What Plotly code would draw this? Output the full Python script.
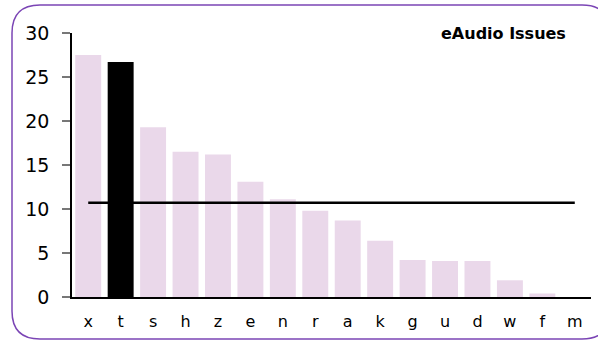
import plotly.graph_objects as go

categories = ["x", "t", "s", "h", "z", "e", "n", "r", "a", "k", "g", "u", "d", "w", "f", "m"]
issues = [27.5, 26.7, 19.3, 16.5, 16.2, 13.1, 11.1, 9.8, 8.7, 6.4, 4.2, 4.1, 4.1, 1.9, 0.4, 0.0]
highlight = "t"
average = [10.7] * len(categories)
title_text = "eAudio Issues"

W, H = 598, 345
L, R, T, B = 72, 7, 33, 48
pw, ph = W - L - R, H - T - B

def px(x):
    return (x - L) / pw

def py(y):
    return (H - B - y) / ph

def rounded_rect(x0, y0, x1, y1, r):
    pts = [
        f"M {px(x0 + r)},{py(y0)}",
        f"L {px(x1 - r)},{py(y0)}",
        f"Q {px(x1)},{py(y0)} {px(x1)},{py(y0 + r)}",
        f"L {px(x1)},{py(y1 - r)}",
        f"Q {px(x1)},{py(y1)} {px(x1 - r)},{py(y1)}",
        f"L {px(x0 + r)},{py(y1)}",
        f"Q {px(x0)},{py(y1)} {px(x0)},{py(y1 - r)}",
        f"L {px(x0)},{py(y0 + r)}",
        f"Q {px(x0)},{py(y0)} {px(x0 + r)},{py(y0)}",
        "Z",
    ]
    return " ".join(pts)

colors = ["#000000" if c == highlight else "#EAD8EA" for c in categories]

fig = go.Figure()
fig.add_trace(go.Bar(x=categories, y=issues, marker=dict(color=colors, line=dict(width=0)),
                     showlegend=False, hoverinfo="x+y"))
fig.add_trace(go.Scatter(x=categories, y=average, mode="lines",
                         line=dict(color="#000000", width=2.5), showlegend=False))

font = "DejaVu Sans, Verdana, sans-serif"
fig.update_layout(
    width=W, height=H,
    margin=dict(l=L, r=R, t=T, b=B),
    paper_bgcolor="white", plot_bgcolor="white",
    bargap=0.2,
    font=dict(family=font, color="#000000"),
    shapes=[dict(type="path", xref="paper", yref="paper",
                 path=rounded_rect(12, 5, 610, 339, 28),
                 line=dict(color="#7B45B5", width=1.5), layer="below")],
    annotations=[dict(text="<b>" + title_text + "</b>", xref="paper", yref="paper",
                      x=px(568), y=py(33), xanchor="right", yanchor="middle",
                      showarrow=False, font=dict(size=16, family=font, color="#000000"))],
)
fig.update_xaxes(showline=True, linecolor="#000000", linewidth=1.5, ticks="",
                 showgrid=False, tickfont=dict(size=16), ticklabelstandoff=9)
fig.update_yaxes(range=[0, 30], dtick=5, showline=True, linecolor="#000000", linewidth=1.5,
                 ticks="outside", ticklen=8, tickcolor="#777777", tickwidth=1.5,
                 showgrid=False, zeroline=False, tickfont=dict(size=19), ticklabelstandoff=9)

fig.write_html("out.html", config={"displayModeBar": False},
               post_script="document.body.style.margin='0';document.body.style.overflow='hidden';")
